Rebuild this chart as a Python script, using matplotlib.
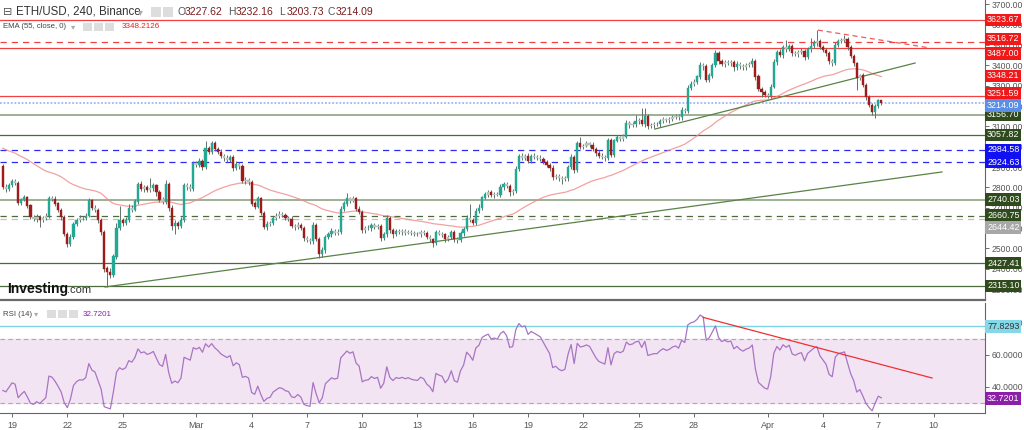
import numpy as np
import pandas as pd
import matplotlib
matplotlib.use('Agg')
import matplotlib.pyplot as plt
import matplotlib.dates as mdates
from matplotlib.patches import Rectangle

plt.rcParams['font.family'] = ['Liberation Sans', 'DejaVu Sans']

# ETH/USD 4h candles, first row Feb 18 12:00..20:00, last row Apr 7 00:00..04:00
first_open = 2905
closes = [
    2800, 2790, 2810,
    2830, 2822, 2725, 2740, 2752, 2710,
    2655, 2645, 2655, 2640, 2650, 2660,
    2748, 2742, 2720, 2690, 2654, 2570,
    2520, 2555, 2620, 2640, 2650, 2648,
    2660, 2735, 2700, 2690, 2640, 2580,
    2400, 2385, 2370, 2460, 2600, 2640,
    2625, 2640, 2700, 2690, 2730, 2815,
    2790, 2800, 2785, 2795, 2810, 2775,
    2740, 2730, 2815, 2700, 2610, 2625,
    2610, 2640, 2810, 2800, 2790, 2920,
    2910, 2930, 2900, 2995, 2975, 3015,   # Mar 1
    2990, 2975, 2955, 2945, 2935, 2950,
    2895, 2915, 2905, 2830, 2835, 2825,
    2720, 2705, 2745, 2675, 2605, 2620,
    2625, 2650, 2660, 2670, 2665, 2650,
    2645, 2610, 2605, 2615, 2600, 2550,
    2540, 2535, 2615, 2545, 2470, 2490,
    2555, 2570, 2585, 2578, 2582, 2695,
    2720, 2745, 2735, 2745, 2695, 2680,
    2590, 2598, 2600, 2615, 2605, 2610,
    2550, 2570, 2650, 2590, 2570, 2585,
    2580, 2585, 2578, 2582, 2575, 2572,
    2570, 2580, 2575, 2555, 2545, 2525,
    2578, 2572, 2568, 2545, 2555, 2580,
    2545, 2540, 2575, 2595, 2650, 2640,
    2625, 2685, 2700, 2750, 2765, 2775,
    2762, 2768, 2765, 2800, 2815, 2805,
    2775, 2780, 2890, 2955, 2945, 2955,
    2930, 2955, 2950, 2945, 2940, 2925,
    2910, 2895, 2850, 2855, 2845, 2840,
    2845, 2900, 2950, 2885, 3015, 3000,
    3005, 3015, 3010, 2990, 2970, 2955,
    2950, 2945, 3030, 2960, 3030, 3045,
    3040, 3050, 3115, 3105, 3110, 3125,
    3130, 3110, 3150, 3100, 3105, 3110,
    3110, 3125, 3135, 3130, 3135, 3145,
    3150, 3145, 3180, 3175, 3290, 3310,
    3320, 3345, 3400, 3395, 3330, 3350,
    3400, 3460, 3420, 3405, 3415, 3410,
    3415, 3390, 3405, 3395, 3390, 3400,
    3405, 3420, 3345, 3285, 3270, 3255,
    3250, 3295, 3415, 3465, 3450, 3490,   # Apr 1
    3480, 3495, 3460, 3455, 3465, 3470,
    3440, 3480, 3495, 3510, 3520, 3490,
    3475, 3460, 3420, 3410, 3500, 3520,
    3525, 3530, 3490, 3445, 3410, 3340,
    3350, 3305, 3245, 3205, 3170, 3200,
    3227.62, 3214.09,
]
upper_wick = [
    10, 15, 12,
    10, 12, 8, 10, 12, 8,
    8, 10, 12, 10, 8, 15,
    12, 10, 15, 8, 10, 8,
    10, 15, 12, 10, 15, 10,
    12, 15, 10, 12, 8, 10,
    10, 15, 20, 12, 25, 70,
    10, 15, 20, 12, 15, 10,
    15, 12, 10, 50, 10, 8,
    12, 15, 20, 10, 12, 15,
    10, 15, 10, 12, 15, 10,
    10, 15, 12, 35, 10, 15,
    12, 10, 15, 10, 12, 10,
    10, 15, 12, 10, 15, 12,
    10, 15, 12, 10, 8, 15,
    12, 10, 15, 12, 10, 8,
    10, 12, 10, 15, 10, 8,
    12, 10, 15, 12, 10, 15,
    10, 12, 15, 10, 12, 15,
    12, 25, 10, 15, 10, 12,
    10, 12, 15, 10, 12, 10,
    8, 12, 15, 10, 8, 12,
    8, 10, 8, 10, 8, 10,
    10, 8, 10, 12, 10, 8,
    10, 12, 8, 10, 12, 10,
    8, 10, 12, 10, 15, 70,
    10, 12, 20, 10, 12, 10,
    12, 10, 8, 15, 12, 10,
    10, 12, 15, 10, 12, 10,
    12, 10, 15, 10, 12, 10,
    10, 12, 15, 10, 12, 10,
    10, 12, 15, 10, 15, 35,
    10, 12, 10, 15, 10, 12,
    12, 10, 15, 12, 10, 12,
    10, 12, 15, 10, 12, 30,
    10, 60, 40, 12, 10, 10,
    10, 12, 10, 8, 10, 12,
    10, 12, 15, 10, 15, 12,
    12, 10, 15, 12, 10, 12,
    12, 15, 10, 12, 10, 12,
    10, 12, 15, 10, 12, 10,
    12, 15, 10, 12, 10, 8,
    10, 12, 15, 12, 15, 10,
    35, 12, 10, 12, 10, 15,
    12, 10, 40, 15, 54, 12,
    10, 12, 10, 12, 15, 12,
    12, 20, 10, 12, 10, 8,
    10, 12, 10, 8, 10, 12,
    5, 4.5,
]
lower_wick = [
    10, 12, 10,
    8, 10, 12, 10, 8, 12,
    10, 12, 15, 35, 10, 8,
    10, 8, 12, 10, 15, 10,
    12, 10, 8, 12, 10, 8,
    10, 8, 12, 10, 15, 12,
    15, 75, 15, 10, 12, 10,
    15, 10, 12, 10, 8, 12,
    10, 12, 8, 10, 12, 15,
    10, 12, 10, 15, 20, 40,
    15, 12, 10, 12, 10, 8,
    12, 10, 15, 10, 12, 10,
    10, 12, 10, 15, 12, 10,
    12, 10, 15, 10, 12, 15,
    12, 10, 8, 12, 10, 15,
    10, 12, 8, 10, 12, 10,
    12, 10, 15, 10, 12, 15,
    10, 15, 12, 10, 17, 10,
    12, 10, 15, 10, 12, 10,
    10, 12, 10, 8, 12, 10,
    15, 12, 10, 15, 10, 12,
    15, 10, 12, 15, 20, 10,
    10, 12, 10, 8, 10, 12,
    10, 12, 10, 8, 12, 20,
    10, 8, 12, 15, 10, 8,
    12, 15, 10, 12, 10, 8,
    10, 8, 12, 10, 8, 10,
    10, 12, 8, 10, 12, 10,
    15, 12, 10, 8, 12, 10,
    10, 8, 12, 10, 8, 12,
    10, 12, 15, 10, 12, 25,
    10, 12, 10, 15, 10, 12,
    10, 8, 12, 10, 15, 10,
    12, 15, 10, 12, 10, 8,
    10, 12, 8, 15, 10, 12,
    12, 10, 12, 15, 10, 12,
    10, 12, 8, 10, 12, 10,
    10, 12, 15, 10, 8, 12,
    10, 12, 10, 15, 12, 10,
    12, 10, 15, 10, 12, 10,
    12, 15, 10, 12, 10, 12,
    10, 12, 15, 12, 25, 10,
    12, 10, 8, 12, 10, 15,
    12, 10, 15, 10, 12, 10,
    15, 10, 12, 10, 12, 10,
    10, 12, 15, 12, 10, 8,
    10, 12, 15, 10, 12, 60,
    12, 10, 15, 10, 15, 30,
    8, 10.36,
]
ema_seed = 3000          # EMA(55) value at the left edge
rsi_seed_gain, rsi_seed_loss = 14, 15

# horizontal levels
red_levels = [3623.67, 3487.00, 3251.59]
red_dashed = [3516.72]
green_levels = [3057.82, 2427.41, 2315.10]
green_light_levels = [3156.70, 2740.03]
green_dashed = [2660.75]
blue_dashed = [2984.58, 2924.63]
gray_dashed = [2644.42]
last_price = 3214.09
ema_last = 3348.21
rsi_level = 77.8293
rsi_last = 32.7201

# trend lines (time, value)
green_trend = (['2022-02-24 01:00', '2022-04-10 11:00'], [2310, 2876])
green_trend2 = (['2022-03-25 21:00', '2022-04-09 00:00'], [3087, 3412])
red_trend = (['2022-04-03 17:30', '2022-04-09 19:30'], [3574, 3486])
rsi_trend = (['2022-03-28 12:00', '2022-04-09 22:00'], [83.5, 45.6])

tick_days = ['2022-02-19', '2022-02-22', '2022-02-25', '2022-03-01', '2022-03-04',
             '2022-03-07', '2022-03-10', '2022-03-13', '2022-03-16', '2022-03-19',
             '2022-03-22', '2022-03-25', '2022-03-28', '2022-04-01', '2022-04-04',
             '2022-04-07', '2022-04-10']
tick_text = ['19', '22', '25', 'Mar', '4', '7', '10', '13', '16', '19', '22', '25',
             '28', 'Apr', '4', '7', '10']

# ---- derived series
c = np.array(closes, dtype=float)
o = np.concatenate([[first_open], c[:-1]])
hi = np.maximum(o, c) + np.array(upper_wick)
lo = np.minimum(o, c) - np.array(lower_wick)
dates = pd.date_range('2022-02-18 12:00', periods=len(c), freq='4h')
x = mdates.date2num(dates.to_pydatetime())

ema = []
e = ema_seed
for v in c:
    e = e + (2 / 56) * (v - e)
    ema.append(e)

diff = np.diff(np.concatenate([[first_open], c]))
ag, al = rsi_seed_gain, rsi_seed_loss
rsi = []
for d in diff:
    ag = (ag * 13 + max(d, 0)) / 14
    al = (al * 13 + max(-d, 0)) / 14
    rsi.append(100 - 100 / (1 + ag / al))

def tnum(lst):
    return mdates.date2num(pd.to_datetime(lst).to_pydatetime())

# ---- figure
W, H = 1024, 430
fig = plt.figure(figsize=(W / 100, H / 100), dpi=100)
ax = fig.add_axes([0, 1 - 300 / H, 985 / W, 300 / H])
ax2 = fig.add_axes([0, 1 - 413 / H, 985 / W, 110 / H], sharex=ax)

xmin = mdates.date2num(pd.Timestamp('2022-02-18 08:20').to_pydatetime())
xmax = mdates.date2num(pd.Timestamp('2022-04-12 19:00').to_pydatetime())
ax.set_xlim(xmin, xmax)
ax.set_ylim(2246, 3722)
ax2.set_ylim(23.7, 92.5)

up_col, dn_col, flat_col = '#22a893', '#9e1b1b', '#b8c2bc'
cols = []
for oo, cc in zip(o, c):
    if abs(cc - oo) < 12:
        cols.append(flat_col)
    elif cc > oo:
        cols.append(up_col)
    else:
        cols.append(dn_col)
ax.vlines(x, lo, hi, colors='#5f7268', lw=0.7, zorder=3)
ax.bar(x, np.abs(c - o) + 1, bottom=np.minimum(o, c), width=0.12,
       color=cols, edgecolor=cols, lw=0.3, zorder=4)
ax.plot(x, ema, color='#f08a8a', lw=0.9, alpha=0.8, zorder=2)

for v in red_levels:
    ax.axhline(v, color='#f04040', lw=0.9, zorder=1)
for v in red_dashed:
    ax.axhline(v, color='#f04040', lw=0.9, ls=(0, (5, 4)), zorder=1)
for v in green_levels:
    ax.axhline(v, color='#4d6a3a', lw=0.9, zorder=1)
for v in green_light_levels:
    ax.axhline(v, color='#8ea381', lw=1.2, zorder=1)
for v in green_dashed:
    ax.axhline(v, color='#4d6a3a', lw=0.9, ls=(0, (5, 4)), zorder=1)
for v in blue_dashed:
    ax.axhline(v, color='#2a2af0', lw=0.9, ls=(0, (5, 4)), zorder=1)
for v in gray_dashed:
    ax.axhline(v, color='#c9b9c9', lw=0.9, ls=(0, (5, 4)), zorder=1)
ax.axhline(last_price, color='#9fb6f2', lw=1.3, ls=(0, (1, 1)), zorder=1)

ax.plot(tnum(green_trend[0]), green_trend[1], color='#5b8246', lw=0.9, zorder=2)
ax.plot(tnum(green_trend2[0]), green_trend2[1], color='#5b8246', lw=0.9, zorder=2)
ax.plot(tnum(red_trend[0]), red_trend[1], color='#f05a5a', lw=0.9, ls=(0, (4, 3)), zorder=2)

# price axis
ax.yaxis.tick_right()
ax.set_yticks(np.arange(2300, 3701, 100))
ax.yaxis.set_major_formatter(matplotlib.ticker.FormatStrFormatter('%.2f'))
ax.tick_params(axis='y', labelsize=6.2, colors='#555555', length=3, width=0.6, pad=2)
ax.tick_params(axis='x', bottom=False, labelbottom=False)
for s in ['top', 'left']:
    ax.spines[s].set_visible(False)
ax.spines['right'].set_color('#666666')
ax.spines['right'].set_linewidth(0.8)
ax.spines['bottom'].set_color('#6b6b6b')
ax.spines['bottom'].set_linewidth(1.6)

def tag(axis, v, text, fc, tc='white', dy=0):
    axis.annotate(text, xy=(1.0, v), xycoords=('axes fraction', 'data'),
                  xytext=(1.5, dy), textcoords='offset points', ha='left', va='center',
                  fontsize=6.4, color=tc, zorder=20, annotation_clip=False,
                  bbox=dict(boxstyle='square,pad=0.2', fc=fc, ec='none'))

tag(ax, red_levels[0], '%.2f' % red_levels[0], '#f01818')
tag(ax, red_dashed[0], '%.2f' % red_dashed[0], '#f01818', dy=2)
tag(ax, red_levels[1], '%.2f' % red_levels[1], '#f01818', dy=-4)
tag(ax, ema_last, '%.2f' % ema_last, '#f01818')
for v in green_levels + green_light_levels + green_dashed:
    tag(ax, v, '%.2f' % v, '#2f4a1c')
for v in blue_dashed:
    tag(ax, v, '%.2f' % v, '#1010f0')
for v in gray_dashed:
    tag(ax, v, '%.2f' % v, '#a8a8a8', dy=-6)
tag(ax, red_levels[2], '%.2f' % red_levels[2], '#f01818', dy=1.5)
tag(ax, last_price, '%.2f' % last_price, '#5b8ee6', dy=-1.5)

# RSI pane
ax2.axhspan(30, 70, color='#f3e4f3', zorder=0)
ax2.axhline(70, color='#aaaaaa', lw=0.8, ls=(0, (4, 3)))
ax2.axhline(30, color='#aaaaaa', lw=0.8, ls=(0, (4, 3)))
ax2.axhline(rsi_level, color='#7fd3e3', lw=1.0)
ax2.plot(x, rsi, color='#a874c4', lw=0.9, zorder=3)
ax2.plot(tnum(rsi_trend[0]), rsi_trend[1], color='#f03030', lw=0.9, zorder=4)
ax2.yaxis.tick_right()
ax2.set_yticks([40, 60, 80])
ax2.yaxis.set_major_formatter(matplotlib.ticker.FormatStrFormatter('%.4f'))
ax2.tick_params(axis='y', labelsize=6.2, colors='#555555', length=3, width=0.6, pad=2)
tag(ax2, rsi_level, '%.4f' % rsi_level, '#84d8e8', tc='#333333')
tag(ax2, rsi_last, '%.4f' % rsi_last, '#8b1fa8')
ax2.spines['top'].set_visible(False)
ax2.spines['left'].set_visible(False)
for s in ['right', 'bottom']:
    ax2.spines[s].set_color('#666666')
    ax2.spines[s].set_linewidth(0.8)

ax2.set_xticks(tnum(tick_days))
ax2.set_xticklabels(tick_text, family=['Liberation Sans Narrow', 'Liberation Sans'])
ax2.tick_params(axis='x', labelsize=6.5, colors='#555555', length=3, width=0.6, pad=3)

# header texts
def px(xp, yp):
    return xp / W, 1 - yp / H

fig.text(*px(3, 12), '\u229f', fontsize=8, color='#555555', va='center',
         family=['DejaVu Sans'])
fig.text(*px(16, 12), 'ETH/USD, 240, Binance', fontsize=8.3, color='#333333', va='center')
fig.text(*px(138, 12), '\u25be', fontsize=7, color='#aaaaaa', va='center',
         family=['DejaVu Sans'])
for xp in [151, 163]:
    fig.patches.append(Rectangle(px(xp, 17), 10 / W, 10 / H, transform=fig.transFigure,
                                 fc='#dddddd', ec='none'))
ohlc = [('O', '3227.62', 177), ('H', '3232.16', 228), ('L', '3203.73', 279), ('C', '3214.09', 328)]
for k, val, xp in ohlc:
    fig.text(*px(xp, 12), k, fontsize=7.5, color='#555555', va='center')
    fig.text(*px(xp + 8, 12), val, fontsize=7.5, color='#7a1c1c', va='center')

fig.text(*px(3, 27), 'EMA (55, close, 0)', fontsize=5.6, color='#444444', va='center')
fig.text(*px(71, 27), '\u25be', fontsize=6, color='#aaaaaa', va='center',
         family=['DejaVu Sans'])
for xp in [83, 94, 105]:
    fig.patches.append(Rectangle(px(xp, 31), 9 / W, 8 / H, transform=fig.transFigure,
                                 fc='#dddddd', ec='none'))
fig.text(*px(122, 27), '3348.2126', fontsize=5.8, color='#f01818', va='center')

fig.text(*px(3, 314), 'RSI (14)', fontsize=5.6, color='#444444', va='center')
fig.text(*px(34, 314), '\u25be', fontsize=6, color='#aaaaaa', va='center',
         family=['DejaVu Sans'])
for xp in [47, 58, 69]:
    fig.patches.append(Rectangle(px(xp, 318), 9 / W, 8 / H, transform=fig.transFigure,
                                 fc='#dddddd', ec='none'))
fig.text(*px(83, 314), '32.7201', fontsize=5.8, color='#8b1fa8', va='center')

fig.text(*px(7, 289), 'Investing', fontsize=10, fontweight='bold', color='#111111', va='center')
fig.text(*px(67, 290), '.com', fontsize=8, color='#333333', va='center')

fig.savefig('out.png', dpi=100)
